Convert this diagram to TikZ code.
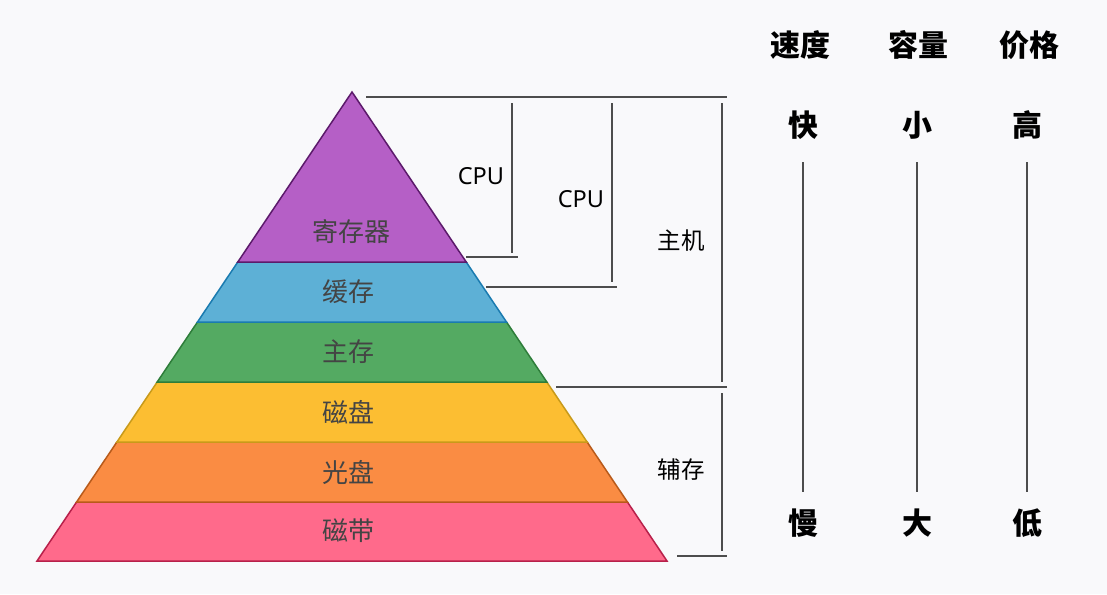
\documentclass[tikz,border=0pt]{standalone}
\usepackage{fontspec}
\setmainfont{Noto Sans}
\newfontfamily\cjk{Noto Sans CJK SC}
\definecolor{bg}{RGB}{249,249,251}
\definecolor{ink}{RGB}{77,77,77}
\definecolor{regfill}{RGB}{181,95,198}\definecolor{regline}{RGB}{92,26,107}
\definecolor{cachefill}{RGB}{93,176,214}\definecolor{cacheline}{RGB}{26,123,176}
\definecolor{memfill}{RGB}{84,170,98}\definecolor{memline}{RGB}{46,125,58}
\definecolor{diskfill}{RGB}{252,190,50}\definecolor{diskline}{RGB}{200,154,26}
\definecolor{optfill}{RGB}{250,140,67}\definecolor{optline}{RGB}{184,90,26}
\definecolor{tapefill}{RGB}{255,106,139}\definecolor{tapeline}{RGB}{184,32,74}
\definecolor{labelgray}{RGB}{68,68,68}
\tikzset{
  layer/.style={line width=1.5pt, line join=miter},
  layertext/.style={font=\cjk\fontsize{26}{26}\selectfont, text=labelgray},
  bracket/.style={draw=ink, line width=2.2pt},
  scale line/.style={draw=ink, line width=1.6pt},
  sidetext/.style={font=\cjk\fontsize{23.5}{23.5}\selectfont, text=black},
  cputext/.style={font=\fontsize{23.5}{23.5}\selectfont, text=black},
  headtext/.style={font=\cjk\bfseries\fontsize{30}{30}\selectfont, text=black},
  valtext/.style={font=\cjk\bfseries\fontsize{30}{30}\selectfont, text=black},
}
\begin{document}
\begin{tikzpicture}[x=1pt,y=-1pt]
\fill[bg] (0,0) rectangle (1107,594);
\useasboundingbox (0,0) rectangle (1107,594);

% pyramid, drawn bottom-up so each upper layer's edge lies on top
\filldraw[layer, fill=tapefill, draw=tapeline] (76.6,502) -- (627.4,502) -- (667,561) -- (37,561) -- cycle;
\filldraw[layer, fill=optfill, draw=optline] (116.9,442) -- (587.1,442) -- (627.4,502) -- (76.6,502) -- cycle;
\filldraw[layer, fill=diskfill, draw=diskline] (157.2,382) -- (546.8,382) -- (587.1,442) -- (116.9,442) -- cycle;
\filldraw[layer, fill=memfill, draw=memline] (197.5,322) -- (506.5,322) -- (546.8,382) -- (157.2,382) -- cycle;
\filldraw[layer, fill=cachefill, draw=cacheline] (237.8,262) -- (466.2,262) -- (506.5,322) -- (197.5,322) -- cycle;
\filldraw[layer, fill=regfill, draw=regline] (352,92) -- (466.2,262) -- (237.8,262) -- cycle;

\node[layertext] (reg)  at (351,232) {寄存器};
\node[layertext] (cache) at (348,292) {缓存};
\node[layertext] (mem)  at (348,352) {主存};
\node[layertext] (disk) at (348,412) {磁盘};
\node[layertext] (opt)  at (348,472) {光盘};
\node[layertext] (tape) at (348,531) {磁带};

% brackets
\draw[bracket] (366,97) -- (727,97);
\draw[bracket] (512,103) -- (512,253);
\draw[bracket] (466,257) -- (518,257);
\draw[bracket] (612,103) -- (612,282);
\draw[bracket] (486,287) -- (617,287);
\draw[bracket] (722,103) -- (722,382);
\draw[bracket] (556,387) -- (727,387);
\draw[bracket] (722,393) -- (722,551);
\draw[bracket] (677,556) -- (727,556);

\node[cputext] (cpu1) at (481,176) {CPU};
\node[cputext] (cpu2) at (581,199) {CPU};
\node[sidetext] (host) at (681,241) {主机};
\node[sidetext] (aux) at (681,470) {辅存};

% speed / capacity / price columns
\node[headtext] (speed) at (800,45) {速度};
\node[headtext] (cap)   at (918,45) {容量};
\node[headtext] (price) at (1029,45) {价格};
\node[valtext] (fast)  at (803,125) {快};
\node[valtext] (small) at (917,125) {小};
\node[valtext] (high)  at (1027,125) {高};
\node[valtext] (slow)  at (803,523) {慢};
\node[valtext] (big)   at (917,523) {大};
\node[valtext] (low)   at (1027,523) {低};
\draw[scale line] (fast.south |- 0,162) -- (fast.south |- 0,492);
\draw[scale line] (small.south |- 0,162) -- (small.south |- 0,492);
\draw[scale line] (high.south |- 0,162) -- (high.south |- 0,492);
\end{tikzpicture}
\end{document}
